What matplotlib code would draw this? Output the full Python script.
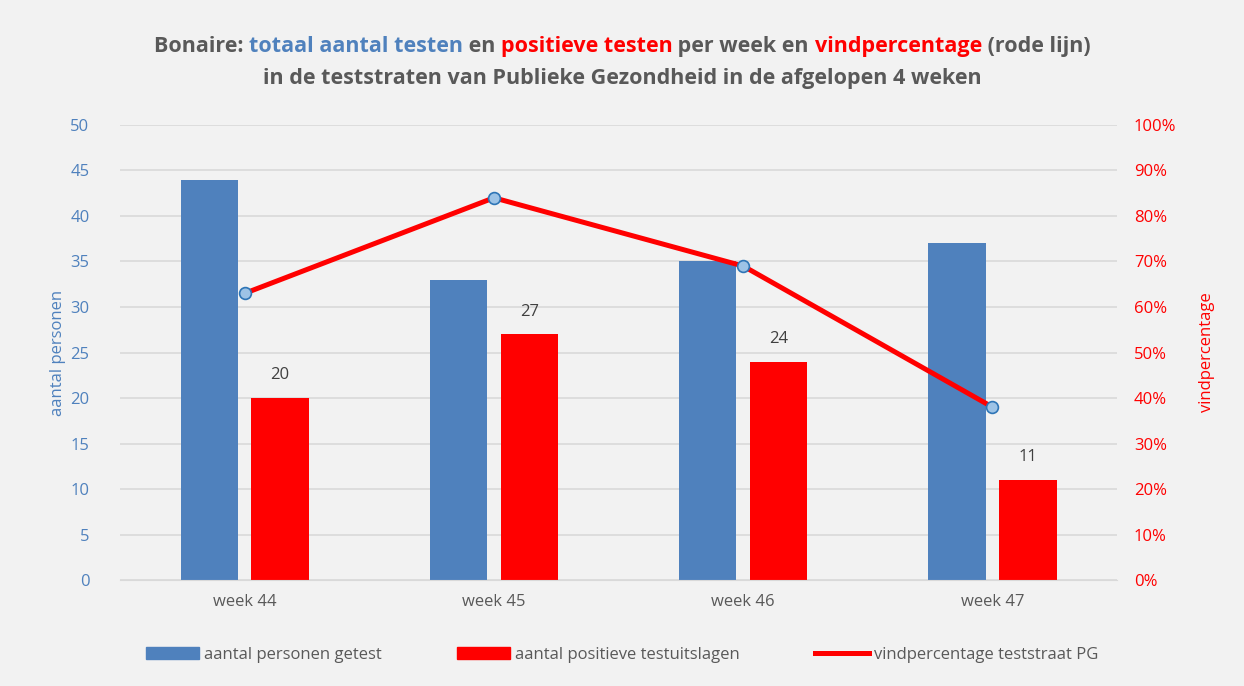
import numpy as np
import matplotlib
matplotlib.use("Agg")
import matplotlib.pyplot as plt
from matplotlib.patches import Patch
from matplotlib.lines import Line2D
from matplotlib.ticker import PercentFormatter

weeks = ["week 44", "week 45", "week 46", "week 47"]
getest = [44, 33, 35, 37]
positief = [20, 27, 24, 11]
vindpct = [63, 84, 69, 38]

BLUE = "#4f81bd"
RED = "#ff0000"
GRAY = "#595959"
BG = "#f2f2f2"
FONT = "Open Sans"

plt.rcParams["font.family"] = [FONT, "DejaVu Sans"]

fig = plt.figure(figsize=(12.44, 6.86), dpi=100, facecolor=BG)
ax = fig.add_axes([0.0965, 0.1545, 0.8015, 0.6633], facecolor=BG)
ax2 = ax.twinx()

x = np.arange(len(weeks))
w = 0.23
ax.bar(x - 0.142, getest, w, color=BLUE, zorder=2)
bars = ax.bar(x + 0.142, positief, w, color=RED, zorder=2)
for b, v in zip(bars, positief):
    ax.text(b.get_x() + b.get_width() / 2, v + 1.6, str(v), ha="center",
            va="bottom", fontsize=12, color="#404040")

ax2.plot(x, vindpct, color=RED, lw=3.6, marker="o", ms=8.5,
         mfc="#9dc3e6", mec="#2e75b6", mew=1.2, zorder=3)

ax.set_xlim(-0.5, 3.5)
ax.set_ylim(0, 50)
ax.set_yticks(range(0, 51, 5))
ax2.set_ylim(0, 100)
ax2.set_yticks(range(0, 101, 10))
ax2.yaxis.set_major_formatter(PercentFormatter(decimals=0))
ax.set_xticks(x, weeks)

ax.grid(axis="y", color="#d9d9d9", lw=1.2, zorder=0)
ax.set_axisbelow(True)
for a in (ax, ax2):
    for s in a.spines.values():
        s.set_visible(False)
ax.spines["bottom"].set_visible(True)
ax.spines["bottom"].set_color("#d9d9d9")
ax.tick_params(axis="both", length=0)
ax2.tick_params(axis="y", length=0)
ax.tick_params(axis="y", colors=BLUE, labelsize=12, pad=22)
ax.tick_params(axis="x", colors=GRAY, labelsize=12, pad=10)
ax2.tick_params(axis="y", colors=RED, labelsize=12, pad=12)

ax.set_ylabel("aantal personen", color=BLUE, fontsize=12, labelpad=3)
ax2.set_ylabel("vindpercentage", color=RED, fontsize=12, rotation=90,
               labelpad=16)

# title with coloured fragments
parts1 = [("Bonaire: ", GRAY), ("totaal aantal testen", BLUE), (" en ", GRAY),
          ("positieve testen", RED), (" per week en ", GRAY),
          ("vindpercentage", RED), (" (rode lijn)", GRAY)]
fig.canvas.draw()
r = fig.canvas.get_renderer()
texts = [fig.text(0, 0.932, s, color=c, fontsize=15.5, fontweight="bold",
                  va="center") for s, c in parts1]
widths = [t.get_window_extent(r).width for t in texts]
xpos = (fig.bbox.width - sum(widths)) / 2
for t, wd in zip(texts, widths):
    t.set_x(xpos / fig.bbox.width)
    xpos += wd
fig.text(0.5, 0.886, "in de teststraten van Publieke Gezondheid in de afgelopen 4 weken",
         color=GRAY, fontsize=15.5, fontweight="bold", ha="center", va="center")

handles = [Patch(color=BLUE, label="aantal personen getest"),
           Patch(color=RED, label="aantal positieve testuitslagen"),
           Line2D([], [], color=RED, lw=3.6, label="vindpercentage teststraat PG")]
leg = fig.legend(handles=handles, loc="center", bbox_to_anchor=(0.5, 0.045),
                 ncol=3, frameon=False, fontsize=12, columnspacing=4.5,
                 handlelength=3.2, handletextpad=0.3)
for t in leg.get_texts():
    t.set_color(GRAY)

fig.savefig("out.png", dpi=100, facecolor=BG)
